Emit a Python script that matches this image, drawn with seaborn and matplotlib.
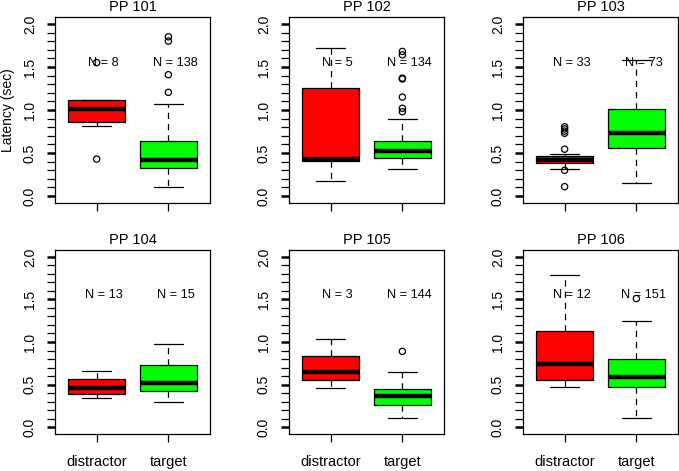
import numpy as np
import pandas as pd
import matplotlib
matplotlib.use("Agg")
import matplotlib.pyplot as plt
import seaborn as sns

# ---------------- data ----------------
panels = ["PP 101", "PP 102", "PP 103", "PP 104", "PP 105", "PP 106"]
categories = ["distractor", "target"]
box_colors = ["#FF0000", "#00FF00"]

# five-number summaries: lower whisker, Q1, median, Q3, upper whisker
distractor_stats = [
    [0.81, 0.86, 1.01, 1.115, 1.115],
    [0.175, 0.405, 0.43, 1.255, 1.72],
    [0.315, 0.39, 0.42, 0.46, 0.485],
    [0.343, 0.386, 0.46, 0.569, 0.659],
    [0.456, 0.55, 0.647, 0.838, 1.041],
    [0.476, 0.55, 0.745, 1.135, 1.782],
]
target_stats = [
    [0.105, 0.327, 0.425, 0.639, 1.064],
    [0.32, 0.437, 0.519, 0.635, 0.90],
    [0.156, 0.561, 0.729, 1.014, 1.583],
    [0.292, 0.421, 0.519, 0.725, 0.975],
    [0.109, 0.265, 0.363, 0.444, 0.651],
    [0.109, 0.472, 0.589, 0.795, 1.251],
]
distractor_outliers = [
    [0.43, 1.55],
    [],
    [0.11, 0.30, 0.545, 0.73, 0.755, 0.78, 0.805],
    [],
    [],
    [],
]
target_outliers = [
    [1.205, 1.41, 1.80, 1.85],
    [0.98, 1.02, 1.15, 1.36, 1.37, 1.64, 1.68],
    [],
    [],
    [0.89],
    [1.51],
]
n_distractor = [8, 5, 33, 13, 3, 12]
n_target = [138, 134, 73, 15, 144, 151]

y_major = [0.0, 0.5, 1.0, 1.5, 2.0]
y_minor = np.round(np.arange(0, 2.01, 0.1), 1)

# ---------------- style ----------------
sns.set_theme(style="ticks", rc={
    "text.color": "black", "axes.labelcolor": "black",
    "xtick.color": "black", "ytick.color": "black",
    "axes.edgecolor": "black", "axes.linewidth": 0.9,
})
plt.rcParams["font.family"] = ["Liberation Sans", "DejaVu Sans"]

W, H = 679, 471
fig = plt.figure(figsize=(W / 100, H / 100), dpi=100)
lefts = [55, 289, 523]
tops = [17, 250]
heights = [186, 184]
aw = 155

palette = dict(zip(categories, box_colors))

for i, title in enumerate(panels):
    r, c = divmod(i, 3)
    ax = fig.add_axes([lefts[c] / W, 1 - (tops[r] + heights[r]) / H,
                       aw / W, heights[r] / H])

    box_df = pd.DataFrame({
        "category": np.repeat(categories, 5),
        "latency": distractor_stats[i] + target_stats[i],
    })
    sns.boxplot(data=box_df, x="category", y="latency", hue="category",
                order=categories, hue_order=categories, palette=palette,
                saturation=1, whis=(0, 100), showfliers=False, width=0.8,
                linecolor="black", linewidth=0.9, legend=False, ax=ax,
                medianprops=dict(color="black", linewidth=3.2,
                                 solid_capstyle="butt"),
                whiskerprops=dict(color="black", linewidth=0.9,
                                  linestyle=(0, (5, 4))),
                capprops=dict(color="black", linewidth=0.9))

    out_vals = distractor_outliers[i] + target_outliers[i]
    if out_vals:
        out_df = pd.DataFrame({
            "category": ["distractor"] * len(distractor_outliers[i])
                        + ["target"] * len(target_outliers[i]),
            "latency": out_vals,
        })
        n_before = len(ax.collections)
        sns.stripplot(data=out_df, x="category", y="latency", order=categories,
                      jitter=False, color="black", size=4.5, ax=ax, zorder=5)
        for coll in ax.collections[n_before:]:
            coll.set_facecolor("none")
            coll.set_edgecolor("black")
            coll.set_linewidth(0.9)

    for j, n in enumerate([n_distractor[i], n_target[i]]):
        ax.text(j + 0.1, 1.55, f"N = {n}", ha="center", va="center",
                fontsize=9.2, zorder=6)

    ax.set_xlim(-0.58, 1.58)
    ax.set_ylim(-0.08, 2.08)
    ax.set_yticks(y_major)
    ax.set_yticklabels([f"{v:.1f}" for v in y_major], rotation=90,
                       va="center", fontsize=10)
    ax.set_yticks(y_minor, minor=True)
    ax.tick_params(axis="y", which="major", length=6, width=1.8, pad=7)
    ax.tick_params(axis="y", which="minor", length=6, width=0.9)
    ax.tick_params(axis="x", length=6, width=0.9, pad=9, labelsize=10.5)
    if r == 0:
        ax.tick_params(axis="x", labelbottom=False)
    ax.set_xlabel("")
    ax.set_ylabel("Latency (sec)" if i == 0 else "", fontsize=10, labelpad=6)
    ax.set_title(title, fontsize=10.5, pad=4)
    for s in ax.spines.values():
        s.set_visible(True)
        s.set_color("black")
        s.set_linewidth(0.9)

fig.savefig("out.png", dpi=100)
